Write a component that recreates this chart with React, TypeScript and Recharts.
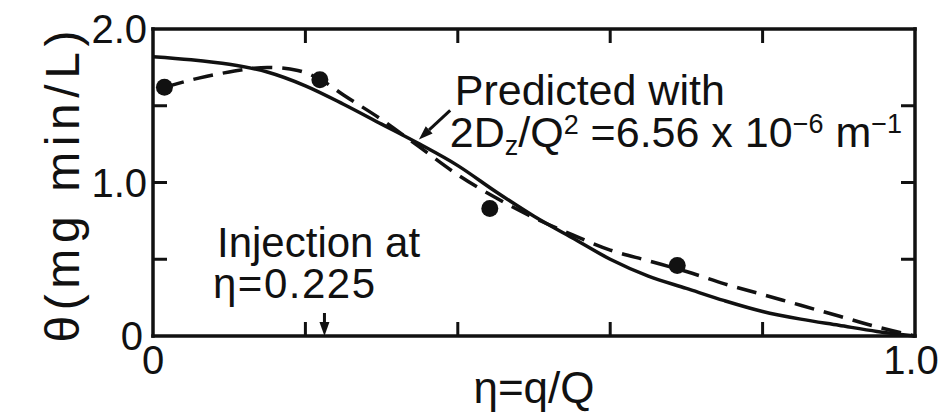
import { ComposedChart, Line, Scatter, XAxis, YAxis, ReferenceLine, ReferenceDot } from 'recharts'

// predicted profile (solid)
const etaPredicted = [0, 0.05, 0.1, 0.15, 0.2, 0.25, 0.3, 0.35, 0.4, 0.45, 0.5, 0.55, 0.6, 0.65, 0.7, 0.75, 0.8, 0.85, 0.9, 0.95, 1.0]
const thetaPredicted = [1.82, 1.8, 1.77, 1.72, 1.63, 1.51, 1.38, 1.25, 1.11, 0.94, 0.78, 0.64, 0.5, 0.39, 0.31, 0.23, 0.16, 0.11, 0.07, 0.03, 0]

// curve through the measurements (dashed)
const etaFitted = [0.015, 0.06, 0.1, 0.15, 0.19, 0.22, 0.25, 0.3, 0.35, 0.4, 0.45, 0.5, 0.55, 0.6, 0.65, 0.7, 0.75, 0.8, 0.85, 0.9, 0.95, 1.0]
const thetaFitted = [1.62, 1.68, 1.72, 1.75, 1.73, 1.67, 1.57, 1.41, 1.23, 1.05, 0.9, 0.77, 0.66, 0.56, 0.49, 0.42, 0.34, 0.27, 0.2, 0.13, 0.06, 0]

// measured points
const etaMeasured = [0.015, 0.219, 0.442, 0.688]
const thetaMeasured = [1.62, 1.67, 0.83, 0.46]

const etaTicks = [0, 0.2, 0.4, 0.6, 0.8, 1]
const thetaTicks = [0, 0.5, 1, 1.5, 2]
const etaTickLabels: Record<number, string> = { 0: '0', 1: '1.0' }
const thetaTickLabels: Record<number, string> = { 0: '0', 1: '1.0', 2: '2.0' }
const injectionEta = 0.225

const predicted = etaPredicted.map((x, i) => ({ x, y: thetaPredicted[i] }))
const fitted = etaFitted.map((x, i) => ({ x, y: thetaFitted[i] }))
const measured = etaMeasured.map((x, i) => ({ x, y: thetaMeasured[i] }))

const INK = '#111'
const FONT = '"Liberation Sans", Arial, Helvetica, sans-serif'
const TICK = 14
const axisLine = { stroke: INK, strokeWidth: 3.5, strokeLinecap: 'square' as const }

function BottomTick({ x, y, payload }: any) {
  const v = payload.value
  const label = etaTickLabels[v]
  return (
    <g>
      {v > 0 && v < 1 && <line x1={x} y1={y} x2={x} y2={y - TICK} stroke={INK} strokeWidth={3} />}
      {label && (
        <text x={x - (v === 1 ? 4 : 0)} y={y + 38} textAnchor="middle" fontSize={40} fill={INK} fontFamily={FONT}>
          {label}
        </text>
      )}
    </g>
  )
}

function TopTick({ x, y, payload }: any) {
  const v = payload.value
  if (v <= 0 || v >= 1) return <g />
  return <line x1={x} y1={y} x2={x} y2={y + TICK} stroke={INK} strokeWidth={3} />
}

function LeftTick({ x, y, payload }: any) {
  const v = payload.value
  const label = thetaTickLabels[v]
  return (
    <g>
      {v > 0 && v < 2 && <line x1={x} y1={y} x2={x + TICK} y2={y} stroke={INK} strokeWidth={3} />}
      {label && (
        <text x={x - (v === 0 ? 10 : 6)} y={y + 14} textAnchor="end" fontSize={40} fill={INK} fontFamily={FONT}>
          {label}
        </text>
      )}
    </g>
  )
}

function RightTick({ x, y, payload }: any) {
  const v = payload.value
  if (v <= 0 || v >= 2) return <g />
  return <line x1={x} y1={y} x2={x - TICK} y2={y} stroke={INK} strokeWidth={3} />
}

function Arrow({ x1, y1, x2, y2 }: any) {
  const a = Math.atan2(y2 - y1, x2 - x1)
  const len = 14
  const w = 5
  const bx = x2 - len * Math.cos(a)
  const by = y2 - len * Math.sin(a)
  const px = -Math.sin(a) * w
  const py = Math.cos(a) * w
  return (
    <g>
      <line x1={x1} y1={y1} x2={bx} y2={by} stroke={INK} strokeWidth={3} />
      <polygon points={`${x2},${y2} ${bx + px},${by + py} ${bx - px},${by - py}`} fill={INK} />
    </g>
  )
}

const Dot = (p: any) => <circle cx={p.cx} cy={p.cy} r={8.5} fill={INK} />

const textAt = (lines: (cx: number, cy: number) => React.ReactNode) => (p: any) => <g>{lines(p.cx, p.cy)}</g>

export default function App() {
  return (
    <div style={{ position: 'absolute', left: 0, top: 0, width: 940, height: 417, background: '#fff' }}>
      <ComposedChart width={940} height={417} margin={{ top: 28, right: 24, bottom: 11, left: 93 }}>
        <XAxis
          xAxisId="b"
          type="number"
          dataKey="x"
          domain={[0, 1]}
          ticks={etaTicks}
          interval={0}
          height={70}
          tickSize={0}
          tickMargin={0}
          axisLine={axisLine}
          tick={BottomTick}
          label={{
            content: ({ viewBox }: any) => (
              <text
                x={viewBox.x + viewBox.width / 2}
                y={viewBox.y + 67}
                textAnchor="middle"
                fontSize={44}
                fill={INK}
                fontFamily={FONT}
              >
                η=q/Q
              </text>
            ),
          }}
        />
        <XAxis
          xAxisId="t"
          orientation="top"
          type="number"
          dataKey="x"
          domain={[0, 1]}
          ticks={etaTicks}
          interval={0}
          height={1}
          tickSize={0}
          tickMargin={0}
          axisLine={axisLine}
          tick={TopTick}
        />
        <YAxis
          yAxisId="l"
          type="number"
          domain={[0, 2]}
          ticks={thetaTicks}
          interval={0}
          width={60}
          tickSize={0}
          tickMargin={0}
          axisLine={axisLine}
          tick={LeftTick}
          label={{
            content: ({ viewBox }: any) => {
              const cx = viewBox.x - 31
              const cy = viewBox.y + viewBox.height / 2 + 4
              return (
                <text
                  x={cx}
                  y={cy}
                  transform={`rotate(-90 ${cx} ${cy})`}
                  textAnchor="middle"
                  dominantBaseline="central"
                  fontSize={48}
                  fill={INK}
                  fontFamily={FONT}
                  textLength={312}
                  lengthAdjust="spacing"
                >
                  θ(mg min/L)
                </text>
              )
            },
          }}
        />
        <YAxis
          yAxisId="r"
          orientation="right"
          type="number"
          domain={[0, 2]}
          ticks={thetaTicks}
          interval={0}
          width={1}
          tickSize={0}
          tickMargin={0}
          axisLine={axisLine}
          tick={RightTick}
        />

        {/* keeps the frame axes (top/right) bound to a series */}
        <Line
          xAxisId="t"
          yAxisId="r"
          data={predicted}
          dataKey="y"
          stroke="none"
          dot={false}
          activeDot={false}
          legendType="none"
          isAnimationActive={false}
        />

        <Line
          xAxisId="b"
          yAxisId="l"
          data={predicted}
          dataKey="y"
          type="monotone"
          stroke={INK}
          strokeWidth={3.5}
          dot={false}
          activeDot={false}
          isAnimationActive={false}
        />
        <Line
          xAxisId="b"
          yAxisId="l"
          data={fitted}
          dataKey="y"
          type="monotone"
          stroke={INK}
          strokeWidth={3.5}
          strokeDasharray="20 10"
          dot={false}
          activeDot={false}
          isAnimationActive={false}
        />
        <Scatter xAxisId="b" yAxisId="l" data={measured} dataKey="y" shape={Dot} isAnimationActive={false} />

        {/* injection point marker */}
        <ReferenceLine
          xAxisId="b"
          yAxisId="l"
          segment={[
            { x: injectionEta, y: 0.15 },
            { x: injectionEta, y: 0 },
          ]}
          shape={Arrow}
        />
        <ReferenceDot
          xAxisId="b"
          yAxisId="l"
          x={0.084}
          y={0.515}
          r={0}
          shape={textAt((cx, cy) => (
            <>
              <text x={cx} y={cy} fontSize={42} fill={INK} fontFamily={FONT}>
                Injection at
              </text>
              <text x={cx - 4} y={cy + 41} fontSize={42} fill={INK} fontFamily={FONT} letterSpacing={1.5}>
                η=0.225
              </text>
            </>
          ))}
        />

        {/* predicted-curve callout */}
        <ReferenceLine
          xAxisId="b"
          yAxisId="l"
          segment={[
            { x: 0.39, y: 1.47 },
            { x: 0.349, y: 1.28 },
          ]}
          shape={Arrow}
        />
        <ReferenceDot
          xAxisId="b"
          yAxisId="l"
          x={0.396}
          y={1.505}
          r={0}
          shape={textAt((cx, cy) => (
            <>
              <text x={cx} y={cy} fontSize={43} fill={INK} fontFamily={FONT}>
                Predicted with
              </text>
              <text x={cx - 5} y={cy + 42} fontSize={43} fill={INK} fontFamily={FONT}>
                2D
                <tspan fontSize={27} dy={8}>z</tspan>
                <tspan dy={-8}>/Q</tspan>
                <tspan fontSize={27} dy={-13}>2</tspan>
                <tspan dy={13}> =6.56 x 10</tspan>
                <tspan fontSize={27} dy={-14}>−6</tspan>
                <tspan dy={14}> m</tspan>
                <tspan fontSize={27} dy={-14}>−1</tspan>
              </text>
            </>
          ))}
        />
      </ComposedChart>
    </div>
  )
}
